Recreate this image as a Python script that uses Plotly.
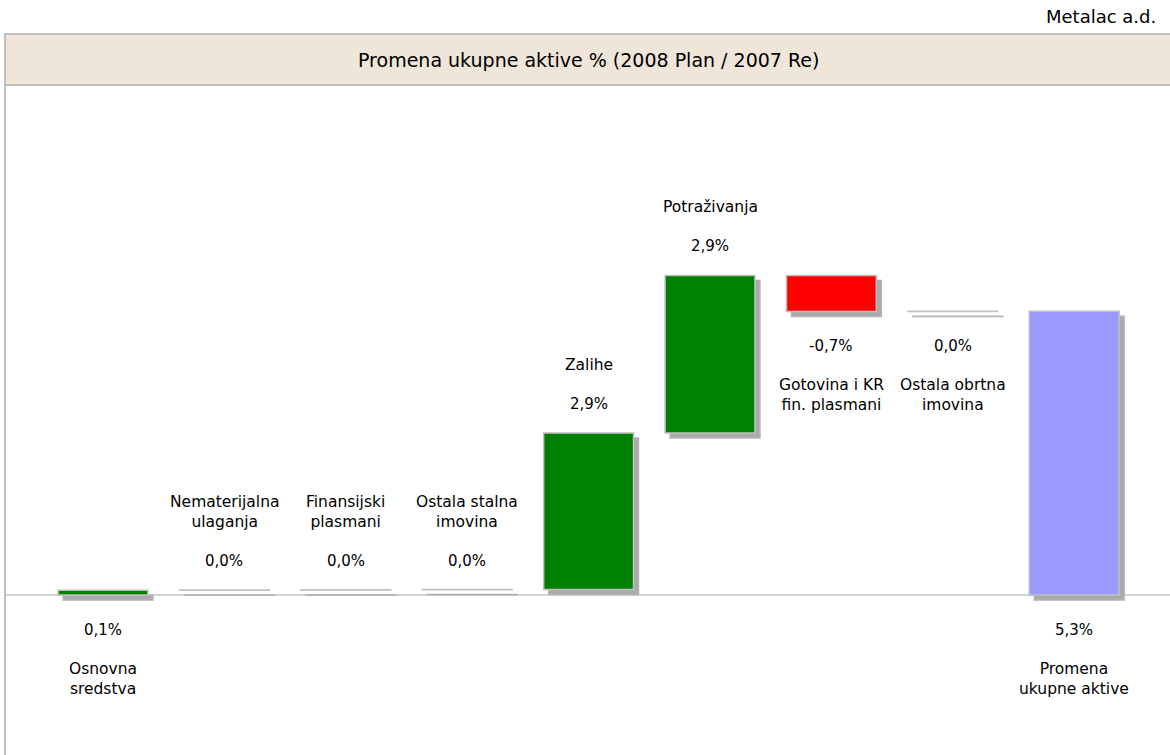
import plotly.graph_objects as go

# Podaci (procitani sa slike)
categories = [
    "Osnovna<br>sredstva",
    "Nematerijalna<br>ulaganja",
    "Finansijski<br>plasmani",
    "Ostala stalna<br>imovina",
    "Zalihe",
    "Potraživanja",
    "Gotovina i KR<br>fin. plasmani",
    "Ostala obrtna<br>imovina",
    "Promena<br>ukupne aktive",
]
changes = [0.09, 0.004, 0.003, 0.004, 2.92, 2.94, -0.67, 0.005]
value_labels = ["0,1%", "0,0%", "0,0%", "0,0%", "2,9%", "2,9%", "-0,7%", "0,0%", "5,3%"]
label_below = [True, False, False, False, False, False, True, True, True]

title_text = "Promena ukupne aktive % (2008 Plan / 2007 Re)"
company = "Metalac a.d."

W, H = 1170, 755
FONT = "DejaVu Sans"


def px_x(p):
    return p / W


def px_y(p):
    return 1 - p / H


# skale (px po jedinici)
px_per_x = 121.4
px_per_y = 53.6
x0_px = 103
base_px = 595
x_range = [-x0_px / px_per_x, (W - x0_px) / px_per_x]
y_range = [(base_px - H) / px_per_y, base_px / px_per_y]

# waterfall: baze i visine
bases, heights, colors = [], [], []
cum = 0.0
for c in changes:
    bases.append(cum)
    heights.append(c)
    if abs(c) < 0.05:
        colors.append("rgba(255,255,255,0)")
    elif c > 0:
        colors.append("#008000")
    else:
        colors.append("#ff0000")
    cum += c
bases.append(0.0)
heights.append(cum)
colors.append("#9999ff")

xs = list(range(len(categories)))
bw = 0.74
dx = 5 / px_per_x
dy = 5 / px_per_y

fig = go.Figure()

# senke
fig.add_trace(go.Bar(
    x=xs, y=heights, base=[b - dy for b in bases],
    width=bw, offset=-bw / 2 + dx,
    marker=dict(color="#aaaaaa", line=dict(color="#b4b4b4", width=1.5)),
    hoverinfo="skip", showlegend=False,
))
# stubici
fig.add_trace(go.Bar(
    x=xs, y=heights, base=bases,
    width=bw, offset=-bw / 2,
    marker=dict(color=colors, line=dict(color="#c0c0c0", width=1.5)),
    hoverinfo="skip", showlegend=False,
))

annotations = []
for i in xs:
    top = max(bases[i], bases[i] + heights[i])
    bot = min(bases[i], bases[i] + heights[i])
    if label_below[i]:
        annotations.append(dict(x=i, y=bot, text=value_labels[i], showarrow=False,
                                yanchor="middle", yshift=-35))
        annotations.append(dict(x=i, y=bot, text=categories[i], showarrow=False,
                                yanchor="top", yshift=-63, font=dict(size=15.5)))
    else:
        annotations.append(dict(x=i, y=top, text=value_labels[i], showarrow=False,
                                yanchor="middle", yshift=29))
        annotations.append(dict(x=i, y=top, text=categories[i], showarrow=False,
                                yanchor="bottom", yshift=57, font=dict(size=15.5)))

annotations.append(dict(xref="paper", yref="paper", x=px_x(588), y=px_y(60),
                        text=title_text, showarrow=False, xanchor="center",
                        yanchor="middle", font=dict(size=19)))
annotations.append(dict(xref="paper", yref="paper", x=px_x(1158), y=px_y(16),
                        text=company, showarrow=False, xanchor="right",
                        yanchor="middle", font=dict(size=18)))

shapes = [
    # traka naslova
    dict(type="rect", xref="paper", yref="paper", x0=px_x(5), x1=1.05,
         y0=px_y(85), y1=px_y(34), fillcolor="#efe5d9",
         line=dict(color="#c0c0c0", width=2), layer="below"),
    # leva ivica
    dict(type="line", xref="paper", yref="paper", x0=px_x(5), x1=px_x(5),
         y0=0, y1=px_y(34), line=dict(color="#c0c0c0", width=2)),
    # osnovna linija
    dict(type="line", xref="paper", yref="y", x0=px_x(5), x1=1, y0=0, y1=0,
         line=dict(color="#a8a8a8", width=1), layer="below"),
]

fig.update_layout(
    width=W, height=H,
    margin=dict(l=0, r=0, t=0, b=0),
    paper_bgcolor="white", plot_bgcolor="white",
    font=dict(family=FONT, size=15, color="black"),
    barmode="overlay",
    xaxis=dict(range=x_range, visible=False, fixedrange=True),
    yaxis=dict(range=y_range, visible=False, fixedrange=True),
    annotations=annotations,
    shapes=shapes,
)

# bez margine stranice, da figura pocne u gornjem levom uglu
fig.write_html("out.html", config={"displayModeBar": False},
               post_script="document.body.style.margin='0';document.body.style.overflow='hidden';")
